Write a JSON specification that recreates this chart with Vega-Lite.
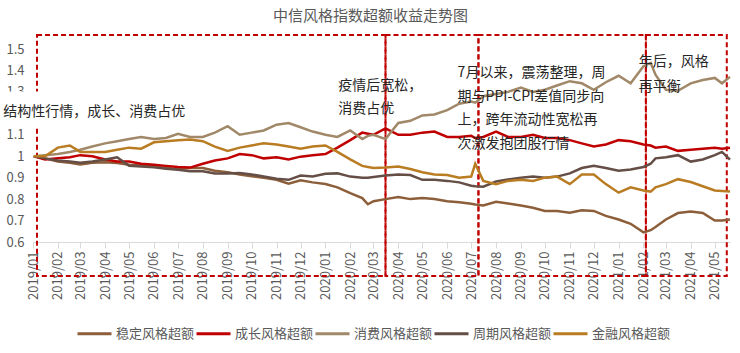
{
  "$schema": "https://vega.github.io/schema/vega-lite/v6.json",
  "width": 697,
  "height": 193,
  "autosize": {"type": "none"},
  "padding": {"left": 33, "top": 49, "right": 10, "bottom": 111},
  "config": {
    "font": "Noto Sans CJK SC",
    "view": {"stroke": null},
    "axisX": {"title": null, "format": "%Y/%m", "labelAngle": -90, "labelFontSize": 13, "labelColor": "#595959", "tickColor": "#d9d9d9", "domainColor": "#d9d9d9", "tickSize": 6, "labelPadding": 3, "grid": false, "labelOverlap": false, "labelFlush": false, "labelFont": "Noto Sans CJK SC", "zindex": 0},
    "axisY": {"title": null, "format": ".1~f", "domain": false, "ticks": false, "grid": false, "labelOverlap": false, "labelFlush": false, "labelFontSize": 13, "labelColor": "#595959", "labelPadding": 9, "labelFont": "Noto Sans CJK SC", "zindex": 0}
  },
  "title": {"text": "中信风格指数超额收益走势图", "fontSize": 15, "fontWeight": "normal", "color": "#595959", "anchor": "middle", "frame": "group", "dx": -11, "offset": 10, "font": "Noto Sans CJK SC"},
  "datasets": {
    "series": [
      {"date": "2019-01-02", "稳定风格超额": 1.0, "成长风格超额": 1.0, "消费风格超额": 1.0, "周期风格超额": 1.0, "金融风格超额": 1.0},
      {"date": "2019-01-16", "稳定风格超额": 0.99, "成长风格超额": 0.985, "消费风格超额": 1.005, "周期风格超额": 0.99, "金融风格超额": 1.0},
      {"date": "2019-02-01", "稳定风格超额": 0.975, "成长风格超额": 0.99, "消费风格超额": 1.01, "周期风格超额": 0.98, "金融风格超额": 1.04},
      {"date": "2019-02-16", "稳定风格超额": 0.97, "成长风格超额": 0.995, "消费风格超额": 1.02, "周期风格超额": 0.975, "金融风格超额": 1.05},
      {"date": "2019-03-01", "稳定风格超额": 0.962, "成长风格超额": 1.005, "消费风格超额": 1.03, "周期风格超额": 0.97, "金融风格超额": 1.02},
      {"date": "2019-03-16", "稳定风格超额": 0.97, "成长风格超额": 1.0, "消费风格超额": 1.045, "周期风格超额": 0.975, "金融风格超额": 1.02},
      {"date": "2019-04-01", "稳定风格超额": 0.972, "成长风格超额": 0.985, "消费风格超额": 1.06, "周期风格超额": 0.985, "金融风格超额": 1.02},
      {"date": "2019-04-16", "稳定风格超额": 0.968, "成长风格超额": 0.975, "消费风格超额": 1.07, "周期风格超额": 0.995, "金融风格超额": 1.03},
      {"date": "2019-05-01", "稳定风格超额": 0.96, "成长风格超额": 0.975, "消费风格超额": 1.08, "周期风格超额": 0.955, "金融风格超额": 1.04},
      {"date": "2019-05-16", "稳定风格超额": 0.957, "成长风格超额": 0.965, "消费风格超额": 1.09, "周期风格超额": 0.952, "金融风格超额": 1.035},
      {"date": "2019-06-01", "稳定风格超额": 0.952, "成长风格超额": 0.96, "消费风格超额": 1.08, "周期风格超额": 0.948, "金融风格超额": 1.065},
      {"date": "2019-06-16", "稳定风格超额": 0.945, "成长风格超额": 0.955, "消费风格超额": 1.085, "周期风格超额": 0.942, "金融风格超额": 1.07},
      {"date": "2019-07-01", "稳定风格超额": 0.94, "成长风格超额": 0.95, "消费风格超额": 1.105, "周期风格超额": 0.937, "金融风格超额": 1.075},
      {"date": "2019-07-16", "稳定风格超额": 0.945, "成长风格超额": 0.947, "消费风格超额": 1.09, "周期风格超额": 0.93, "金融风格超额": 1.078},
      {"date": "2019-08-01", "稳定风格超额": 0.945, "成长风格超额": 0.965, "消费风格超额": 1.09, "周期风格超额": 0.93, "金融风格超额": 1.07},
      {"date": "2019-08-16", "稳定风格超额": 0.932, "成长风格超额": 0.98, "消费风格超额": 1.11, "周期风格超额": 0.92, "金融风格超额": 1.045},
      {"date": "2019-09-01", "稳定风格超额": 0.925, "成长风格超额": 0.99, "消费风格超额": 1.14, "周期风格超额": 0.92, "金融风格超额": 1.025},
      {"date": "2019-09-16", "稳定风格超额": 0.915, "成长风格超额": 1.01, "消费风格超额": 1.1, "周期风格超额": 0.922, "金融风格超额": 1.04},
      {"date": "2019-10-01", "稳定风格超额": 0.907, "成长风格超额": 1.005, "消费风格超额": 1.11, "周期风格超额": 0.915, "金融风格超额": 1.05},
      {"date": "2019-10-16", "稳定风格超额": 0.9, "成长风格超额": 0.99, "消费风格超额": 1.12, "周期风格超额": 0.905, "金融风格超额": 1.06},
      {"date": "2019-11-01", "稳定风格超额": 0.89, "成长风格超额": 0.995, "消费风格超额": 1.147, "周期风格超额": 0.895, "金融风格超额": 1.055},
      {"date": "2019-11-16", "稳定风格超额": 0.872, "成长风格超额": 0.985, "消费风格超额": 1.155, "周期风格超额": 0.89, "金融风格超额": 1.045},
      {"date": "2019-12-01", "稳定风格超额": 0.888, "成长风格超额": 0.998, "消费风格超额": 1.135, "周期风格超额": 0.91, "金融风格超额": 1.035},
      {"date": "2019-12-16", "稳定风格超额": 0.878, "成长风格超额": 1.005, "消费风格超额": 1.115, "周期风格超额": 0.905, "金融风格超额": 1.045},
      {"date": "2020-01-01", "稳定风格超额": 0.87, "成长风格超额": 1.01, "消费风格超额": 1.1, "周期风格超额": 0.918, "金融风格超额": 1.05},
      {"date": "2020-01-16", "稳定风格超额": 0.855, "成长风格超额": 1.04, "消费风格超额": 1.09, "周期风格超额": 0.92, "金融风格超额": 1.02},
      {"date": "2020-02-01", "稳定风格超额": 0.828, "成长风格超额": 1.075, "消费风格超额": 1.12, "周期风格超额": 0.905, "金融风格超额": 0.985},
      {"date": "2020-02-16", "稳定风格超额": 0.805, "成长风格超额": 1.11, "消费风格超额": 1.08, "周期风格超额": 0.9, "金融风格超额": 0.955},
      {"date": "2020-02-23", "稳定风格超额": 0.776, "成长风格超额": 1.105, "消费风格超额": 1.095, "周期风格超额": 0.9, "金融风格超额": 0.95},
      {"date": "2020-03-01", "稳定风格超额": 0.79, "成长风格超额": 1.1, "消费风格超额": 1.1, "周期风格超额": 0.903, "金融风格超额": 0.945},
      {"date": "2020-03-16", "稳定风格超额": 0.8, "成长风格超额": 1.13, "消费风格超额": 1.08, "周期风格超额": 0.91, "金融风格超额": 0.947},
      {"date": "2020-04-01", "稳定风格超额": 0.81, "成长风格超额": 1.1, "消费风格超额": 1.155, "周期风格超额": 0.915, "金融风格超额": 0.952},
      {"date": "2020-04-16", "稳定风格超额": 0.8, "成长风格超额": 1.1, "消费风格超额": 1.165, "周期风格超额": 0.912, "金融风格超额": 0.94},
      {"date": "2020-05-01", "稳定风格超额": 0.805, "成长风格超额": 1.11, "消费风格超额": 1.19, "周期风格超额": 0.89, "金融风格超额": 0.925},
      {"date": "2020-05-16", "稳定风格超额": 0.8, "成长风格超额": 1.115, "消费风格超额": 1.195, "周期风格超额": 0.89, "金融风格超额": 0.915},
      {"date": "2020-06-01", "稳定风格超额": 0.79, "成长风格超额": 1.09, "消费风格超额": 1.215, "周期风格超额": 0.885, "金融风格超额": 0.912},
      {"date": "2020-06-16", "稳定风格超额": 0.785, "成长风格超额": 1.09, "消费风格超额": 1.245, "周期风格超额": 0.878, "金融风格超额": 0.9},
      {"date": "2020-07-01", "稳定风格超额": 0.778, "成长风格超额": 1.095, "消费风格超额": 1.255, "周期风格超额": 0.862, "金融风格超额": 0.905},
      {"date": "2020-07-06", "稳定风格超额": 0.775, "成长风格超额": 1.085, "消费风格超额": 1.25, "周期风格超额": 0.86, "金融风格超额": 0.965},
      {"date": "2020-07-16", "稳定风格超额": 0.77, "成长风格超额": 1.09, "消费风格超额": 1.28, "周期风格超额": 0.858, "金融风格超额": 0.885},
      {"date": "2020-08-01", "稳定风格超额": 0.788, "成长风格超额": 1.115, "消费风格超额": 1.29, "周期风格超额": 0.882, "金融风格超额": 0.87},
      {"date": "2020-08-16", "稳定风格超额": 0.78, "成长风格超额": 1.09, "消费风格超额": 1.3, "周期风格超额": 0.892, "金融风格超额": 0.885},
      {"date": "2020-09-01", "稳定风格超额": 0.77, "成长风格超额": 1.09, "消费风格超额": 1.32, "周期风格超额": 0.9, "金融风格超额": 0.89},
      {"date": "2020-09-16", "稳定风格超额": 0.76, "成长风格超额": 1.1, "消费风格超额": 1.3, "周期风格超额": 0.905, "金融风格超额": 0.885},
      {"date": "2020-10-01", "稳定风格超额": 0.745, "成长风格超额": 1.085, "消费风格超额": 1.31, "周期风格超额": 0.9, "金融风格超额": 0.9},
      {"date": "2020-10-16", "稳定风格超额": 0.745, "成长风格超额": 1.085, "消费风格超额": 1.33, "周期风格超额": 0.905, "金融风格超额": 0.905},
      {"date": "2020-11-01", "稳定风格超额": 0.737, "成长风格超额": 1.075, "消费风格超额": 1.35, "周期风格超额": 0.92, "金融风格超额": 0.87},
      {"date": "2020-11-16", "稳定风格超额": 0.748, "成长风格超额": 1.06, "消费风格超额": 1.34, "周期风格超额": 0.945, "金融风格超额": 0.915},
      {"date": "2020-12-01", "稳定风格超额": 0.745, "成长风格超额": 1.045, "消费风格超额": 1.31, "周期风格超额": 0.955, "金融风格超额": 0.915},
      {"date": "2020-12-16", "稳定风格超额": 0.722, "成长风格超额": 1.055, "消费风格超额": 1.345, "周期风格超额": 0.945, "金融风格超额": 0.87},
      {"date": "2021-01-01", "稳定风格超额": 0.705, "成长风格超额": 1.075, "消费风格超额": 1.375, "周期风格超额": 0.932, "金融风格超额": 0.83},
      {"date": "2021-01-16", "稳定风格超额": 0.685, "成长风格超额": 1.07, "消费风格超额": 1.34, "周期风格超额": 0.938, "金融风格超额": 0.855},
      {"date": "2021-02-01", "稳定风格超额": 0.645, "成长风格超额": 1.055, "消费风格超额": 1.42, "周期风格超额": 0.95, "金融风格超额": 0.84},
      {"date": "2021-02-10", "稳定风格超额": 0.655, "成长风格超额": 1.05, "消费风格超额": 1.435, "周期风格超额": 0.965, "金融风格超额": 0.835},
      {"date": "2021-02-16", "稳定风格超额": 0.67, "成长风格超额": 1.04, "消费风格超额": 1.38, "周期风格超额": 0.99, "金融风格超额": 0.855},
      {"date": "2021-03-01", "稳定风格超额": 0.705, "成长风格超额": 1.045, "消费风格超额": 1.31, "周期风格超额": 0.995, "金融风格超额": 0.87},
      {"date": "2021-03-16", "稳定风格超额": 0.735, "成长风格超额": 1.025, "消费风格超额": 1.305, "周期风格超额": 1.005, "金融风格超额": 0.893},
      {"date": "2021-04-01", "稳定风格超额": 0.742, "成长风格超额": 1.03, "消费风格超额": 1.34, "周期风格超额": 0.975, "金融风格超额": 0.88},
      {"date": "2021-04-16", "稳定风格超额": 0.735, "成长风格超额": 1.035, "消费风格超额": 1.355, "周期风格超额": 0.985, "金融风格超额": 0.86},
      {"date": "2021-05-01", "稳定风格超额": 0.7, "成长风格超额": 1.04, "消费风格超额": 1.365, "周期风格超额": 1.005, "金融风格超额": 0.84},
      {"date": "2021-05-10", "稳定风格超额": 0.7, "成长风格超额": 1.035, "消费风格超额": 1.34, "周期风格超额": 1.02, "金融风格超额": 0.838},
      {"date": "2021-05-20", "稳定风格超额": 0.705, "成长风格超额": 1.04, "消费风格超额": 1.37, "周期风格超额": 0.984, "金融风格超额": 0.835}
    ],
    "boxes": [
      {"start": "2019-01-06", "end": "2020-03-16", "low": 0.442, "high": 1.565},
      {"start": "2020-03-16", "end": "2020-07-10", "low": 0.442, "high": 1.565},
      {"start": "2020-07-10", "end": "2021-02-04", "low": 0.442, "high": 1.565},
      {"start": "2021-02-04", "end": "2021-05-16", "low": 0.442, "high": 1.565}
    ],
    "cover": [
      {"start": "2018-11-21", "end": "2019-07-16", "low": 1.1316, "high": 1.302}
    ],
    "notes": [
      {"date": "2018-11-25", "value": 1.206, "text": "结构性行情，成长、消费占优"},
      {"date": "2020-01-17", "value": 1.3275, "text": "疫情后宽松，"},
      {"date": "2020-01-17", "value": 1.22, "text": "消费占优"},
      {"date": "2020-06-14", "value": 1.388, "text": "7月以来，震荡整理，周"},
      {"date": "2020-06-14", "value": 1.274, "text": "期与PPI-CPI差值同步向"},
      {"date": "2020-06-14", "value": 1.167, "text": "上，跨年流动性宽松再"},
      {"date": "2020-06-14", "value": 1.057, "text": "次激发抱团股行情"},
      {"date": "2021-01-26", "value": 1.441, "text": "年后，风格"},
      {"date": "2021-01-26", "value": 1.324, "text": "再平衡"}
    ]
  },
  "layer": [
    {
      "data": {"name": "boxes"},
      "mark": {"type": "rect", "fill": "#ffffff", "fillOpacity": 0, "stroke": "#C00000", "strokeWidth": 2, "strokeDash": [5, 3]},
      "encoding": {
        "x": {"field": "start", "type": "temporal", "scale": {"domain": ["2019-01-01", "2021-05-20"]},
          "axis": {"title": null, "format": "%Y/%m", "labelAngle": -90, "tickCount": {"interval": "month", "step": 1}, "labelOverlap": false, "labelFlush": false}},
        "x2": {"field": "end"},
        "y": {"field": "low", "type": "quantitative", "scale": {"domain": [0.6, 1.5], "nice": false, "zero": false},
          "axis": {"title": null, "values": [0.6, 0.7, 0.8, 0.9, 1.0, 1.1, 1.2, 1.3, 1.4, 1.5], "format": ".1~f", "labelOverlap": false, "labelFlush": false}},
        "y2": {"field": "high"}
      }
    },
    {
      "data": {"name": "cover"},
      "mark": {"type": "rect", "fill": "#ffffff"},
      "encoding": {
        "x": {"field": "start", "type": "temporal", "scale": {"domain": ["2019-01-01", "2021-05-20"]},
          "axis": {"title": null, "format": "%Y/%m", "labelAngle": -90, "tickCount": {"interval": "month", "step": 1}, "labelOverlap": false, "labelFlush": false}},
        "x2": {"field": "end"},
        "y": {"field": "low", "type": "quantitative", "scale": {"domain": [0.6, 1.5], "nice": false, "zero": false},
          "axis": {"title": null, "values": [0.6, 0.7, 0.8, 0.9, 1.0, 1.1, 1.2, 1.3, 1.4, 1.5], "format": ".1~f", "labelOverlap": false, "labelFlush": false}},
        "y2": {"field": "high"}
      }
    },
    {
      "data": {"name": "series"},
      "transform": [
        {"fold": ["稳定风格超额", "成长风格超额", "消费风格超额", "周期风格超额", "金融风格超额"], "as": ["series", "value"]}
      ],
      "mark": {"type": "line", "strokeWidth": 2.5},
      "encoding": {
        "x": {"field": "date", "type": "temporal", "scale": {"domain": ["2019-01-01", "2021-05-20"]},
          "axis": {"title": null, "format": "%Y/%m", "labelAngle": -90, "tickCount": {"interval": "month", "step": 1}, "labelOverlap": false, "labelFlush": false}},
        "y": {"field": "value", "type": "quantitative", "scale": {"domain": [0.6, 1.5], "nice": false, "zero": false},
          "axis": {"title": null, "values": [0.6, 0.7, 0.8, 0.9, 1.0, 1.1, 1.2, 1.3, 1.4, 1.5], "format": ".1~f", "labelOverlap": false, "labelFlush": false}},
        "color": {
          "field": "series", "type": "nominal",
          "scale": {"domain": ["稳定风格超额", "成长风格超额", "消费风格超额", "周期风格超额", "金融风格超额"], "range": ["#8C5E3A", "#C00000", "#A08868", "#644E46", "#B97C22"]},
          "legend": {"orient": "none", "legendX": 43, "legendY": 266, "direction": "horizontal", "title": null, "symbolType": "stroke", "symbolSize": 1156, "symbolStrokeWidth": 3, "labelFontSize": 13, "labelColor": "#595959", "labelOffset": 3, "columnPadding": -5, "labelFont": "Noto Sans CJK SC"}
        },
        "order": {"field": "date", "type": "temporal"}
      }
    },
    {
      "data": {"name": "notes"},
      "mark": {"type": "text", "align": "left", "baseline": "middle", "fontSize": 14, "color": "#262626", "font": "Noto Sans CJK SC"},
      "encoding": {
        "x": {"field": "date", "type": "temporal", "scale": {"domain": ["2019-01-01", "2021-05-20"]},
          "axis": {"title": null, "format": "%Y/%m", "labelAngle": -90, "tickCount": {"interval": "month", "step": 1}, "labelOverlap": false, "labelFlush": false}},
        "y": {"field": "value", "type": "quantitative", "scale": {"domain": [0.6, 1.5], "nice": false, "zero": false},
          "axis": {"title": null, "values": [0.6, 0.7, 0.8, 0.9, 1.0, 1.1, 1.2, 1.3, 1.4, 1.5], "format": ".1~f", "labelOverlap": false, "labelFlush": false}},
        "text": {"field": "text", "type": "nominal"}
      }
    }
  ]
}
